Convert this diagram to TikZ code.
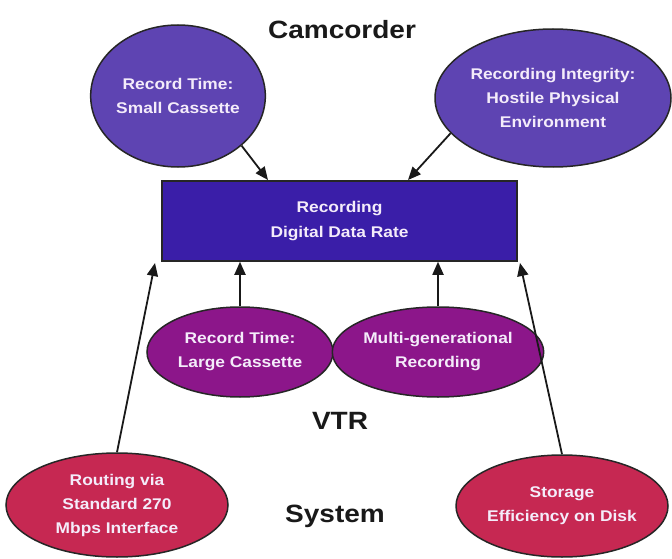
\documentclass[tikz,border=0pt]{standalone}
\usepackage{fontspec}
\setmainfont{Liberation Sans}[FakeStretch=1.12]
\usetikzlibrary{shapes.geometric,arrows.meta}
\definecolor{camc}{RGB}{94,68,178}
\definecolor{rectc}{RGB}{58,30,168}
\definecolor{vtrc}{RGB}{140,22,138}
\definecolor{sysc}{RGB}{198,40,82}
\definecolor{txtc}{RGB}{244,236,250}
\begin{document}
\begin{tikzpicture}[x=1pt,y=-1pt,
  bub/.style={ellipse, draw=black!85, line width=1.5pt, text=txtc,
    font=\bfseries\fontsize{15.5}{24}\selectfont, align=center, inner sep=0pt},
  boxnode/.style={rectangle, draw=black!85, line width=1.5pt, fill=rectc, text=txtc,
    font=\bfseries\fontsize{15.5}{25}\selectfont, align=center, inner sep=0pt},
  lbl/.style={font=\bfseries\fontsize{25}{30}\selectfont, text=black!90},
  arr/.style={line width=1.8pt, draw=black!90, -{Triangle[length=13pt,width=11pt]}}]
\useasboundingbox (0,0) rectangle (672,559);
% group labels
\node[lbl] (cam) at (342,30) {Camcorder};
\node[lbl] (vtr) at (340,421) {VTR};
\node[lbl] (sys) at (335,516) {System};
% central box
\node[boxnode, minimum width=355pt, minimum height=80pt] (rate) at (339.5,221) {Recording\\Digital Data Rate};
% camcorder factors
\node[bub, fill=camc, minimum width=172pt, minimum height=142pt] (rts) at (178,96) {Record Time:\\Small Cassette};
\node[bub, fill=camc, minimum width=236pt, minimum height=138pt] (rint) at (553,98) {Recording Integrity:\\Hostile Physical\\Environment};
% VTR factors
\node[bub, fill=vtrc, minimum width=186pt, minimum height=90pt] (rtl) at (240,352) {Record Time:\\Large Cassette};
\node[bub, fill=vtrc, minimum width=184pt, minimum height=90pt] (mgr) at (438,352) {Multi-generational\\Recording};
% system factors
\node[bub, fill=sysc, minimum width=222pt, minimum height=104pt] (rout) at (117,505) {Routing via\\Standard 270\\Mbps Interface};
\node[bub, fill=sysc, minimum width=212pt, minimum height=102pt] (stor) at (562,506) {Storage\\Efficiency on Disk};
% arrow end points on the box
\coordinate (t1) at (268,180);
\coordinate (t2) at (408,180);
\coordinate (b1) at (155,263);
\coordinate (b4) at (520,263);
% connectors
\draw[arr] (rts.-38) -- (t1);
\draw[arr] (rint.-161) -- (t2);
\draw[arr] (rtl.north) -- (rtl.north |- rate.south);
\draw[arr] (mgr.north) -- (mgr.north |- rate.south);
\draw[arr] (rout.north) -- (b1);
\draw[arr] (stor.north) -- (b4);
\end{tikzpicture}
\end{document}
